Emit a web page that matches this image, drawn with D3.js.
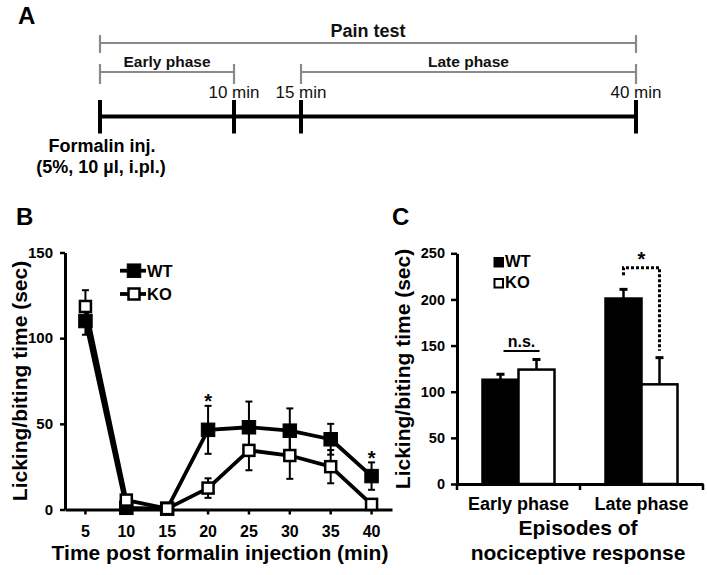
<!DOCTYPE html>
<html><head><meta charset="utf-8">
<script src="https://cdn.jsdelivr.net/npm/d3@7"></script>
<style>
html,body{margin:0;padding:0;background:#fff;}
svg{display:block;font-family:"Liberation Sans",Arial,Helvetica,sans-serif;}
</style></head>
<body>
<svg id="chart" width="707" height="575"></svg>
<script>
// ---------- Panel A data ----------
const timelineMarks = [0, 10, 15, 40];
const timelineLabels = ["", "10 min", "15 min", "40 min"];
const phaseSpans = [
  {label: "Pain test", start: 0, end: 40, row: 0},
  {label: "Early phase", start: 0, end: 10, row: 1},
  {label: "Late phase", start: 15, end: 40, row: 1}
];
// ---------- Panel B data ----------
const times = [5, 10, 15, 20, 25, 30, 35, 40];
const wtMean = [110, 1, 0.5, 46.5, 48, 46, 41, 19.5];
const wtErr  = [8, 1, 0.5, 14, 15, 13, 9, 8];
const koMean = [118.5, 5.5, 0.5, 12.5, 34.5, 31.5, 25, 3];
const koErr  = [9.5, 2, 0.5, 5.7, 11.6, 13.6, 9.7, 1];
const sigTimesB = [20, 40];
const yTicksB = [0, 50, 100, 150];
// ---------- Panel C data ----------
const phases = ["Early phase", "Late phase"];
const groups = ["WT", "KO"];
const wtC = [113, 201];
const wtCErr = [7, 11];
const koC = [124, 108];
const koCErr = [12, 30];
const yTicksC = [0, 50, 100, 150, 200, 250];

const svg = d3.select("#chart");
const BOLD = "bold";

// ================= Panel A =================
svg.append("text").attr("x", 18).attr("y", 24).attr("font-size", 24).attr("font-weight", BOLD).text("A");
const xA = d3.scaleLinear().domain([0, 40]).range([100, 636]);
const gA = svg.append("g");
const rowY = [43, 72];
const rowTick = [[35, 53], [64, 84]];
phaseSpans.forEach(p => {
  const y = rowY[p.row];
  gA.append("line").attr("x1", xA(p.start)).attr("x2", xA(p.end)).attr("y1", y).attr("y2", y)
    .attr("stroke", "#8a8a8a").attr("stroke-width", 2.2);
  gA.append("text").attr("x", (xA(p.start) + xA(p.end)) / 2).attr("y", p.row === 0 ? 37 : 67)
    .attr("text-anchor", "middle").attr("font-weight", BOLD).attr("font-size", p.row === 0 ? 18 : 15.5)
    .attr("fill", "#111").text(p.label);
});
// gray ticks
[[0, 40, 0], [0, 10, 1], [15, 40, 1]].forEach(([a, b, r]) => {
  [a, b].forEach(v => {
    gA.append("line").attr("x1", xA(v)).attr("x2", xA(v)).attr("y1", rowTick[r][0]).attr("y2", rowTick[r][1])
      .attr("stroke", "#8a8a8a").attr("stroke-width", 2.2);
  });
});
// black timeline
gA.append("line").attr("x1", xA(0)).attr("x2", xA(40)).attr("y1", 116.5).attr("y2", 116.5)
  .attr("stroke", "#000").attr("stroke-width", 4);
timelineMarks.forEach((m, i) => {
  gA.append("line").attr("x1", xA(m)).attr("x2", xA(m)).attr("y1", 100).attr("y2", 133.5)
    .attr("stroke", "#000").attr("stroke-width", 4);
  if (timelineLabels[i]) {
    gA.append("text").attr("x", xA(m)).attr("y", 98).attr("text-anchor", "middle")
      .attr("font-size", 17).attr("fill", "#111").text(timelineLabels[i]);
  }
});
gA.append("text").attr("x", 102).attr("y", 152).attr("text-anchor", "middle").attr("font-size", 18)
  .attr("font-weight", BOLD).text("Formalin inj.");
gA.append("text").attr("x", 101).attr("y", 173).attr("text-anchor", "middle").attr("font-size", 18)
  .attr("font-weight", BOLD).text("(5%, 10 µl, i.pl.)");

// ================= Panel B =================
svg.append("text").attr("x", 16).attr("y", 225).attr("font-size", 24).attr("font-weight", BOLD).text("B");
const xB = d3.scaleBand().domain(times).range([65, 392]);
const yB = d3.scaleLinear().domain([0, 150]).range([509.5, 252.5]);
const cx = t => xB(t) + xB.bandwidth() / 2;
const gB = svg.append("g");

const axYB = gB.append("g").attr("transform", "translate(65,0)")
  .call(d3.axisLeft(yB).tickValues(yTicksB).tickSize(5).tickSizeOuter(0).tickPadding(7));
const axXB = gB.append("g").attr("transform", "translate(0,509.5)")
  .call(d3.axisBottom(xB).tickSize(5).tickSizeOuter(0).tickPadding(11));
[axYB, axXB].forEach(a => {
  a.select(".domain").attr("stroke", "#000").attr("stroke-width", 3);
  a.selectAll(".tick line").attr("stroke", "#000").attr("stroke-width", 2.5);
  a.selectAll(".tick text").attr("font-family", "'Liberation Sans',Arial,sans-serif")
    .attr("font-weight", BOLD).attr("fill", "#000");
});
axYB.selectAll(".tick text").attr("font-size", 15);
axXB.selectAll(".tick text").attr("font-size", 16);

gB.append("text").attr("transform", "translate(27,381) rotate(-90)").attr("text-anchor", "middle")
  .attr("font-size", 21).attr("font-weight", BOLD).text("Licking/biting time (sec)");
gB.append("text").attr("x", 220).attr("y", 560).attr("text-anchor", "middle")
  .attr("font-size", 21).attr("font-weight", BOLD).text("Time post formalin injection (min)");

const series = [
  {name: "KO", mean: koMean, err: koErr, fill: "#fff"},
  {name: "WT", mean: wtMean, err: wtErr, fill: "#000"}
];
const line = d3.line().x((d, i) => cx(times[i])).y(d => yB(d));
series.forEach(s => {
  gB.append("path").attr("d", line(s.mean)).attr("fill", "none").attr("stroke", "#000")
    .attr("stroke-width", 3.8).attr("stroke-linejoin", "round");
});
// error bars
series.forEach(s => {
  times.forEach((t, i) => {
    const x = cx(t), lo = yB(s.mean[i] - s.err[i]), hi = yB(s.mean[i] + s.err[i]);
    gB.append("line").attr("x1", x).attr("x2", x).attr("y1", lo).attr("y2", hi)
      .attr("stroke", "#000").attr("stroke-width", 2);
    [lo, hi].forEach(y => gB.append("line").attr("x1", x - 3.5).attr("x2", x + 3.5).attr("y1", y).attr("y2", y)
      .attr("stroke", "#000").attr("stroke-width", 2));
  });
});
// markers: WT first, KO on top
[series[1], series[0]].forEach(s => {
  times.forEach((t, i) => {
    const sz = s.name === "WT" ? 13.5 : 11;
    gB.append("rect").attr("x", cx(t) - sz / 2).attr("y", yB(s.mean[i]) - sz / 2)
      .attr("width", sz).attr("height", sz).attr("fill", s.fill)
      .attr("stroke", "#000").attr("stroke-width", s.name === "WT" ? 1 : 2.5);
  });
});
// significance stars
sigTimesB.forEach(t => {
  const i = times.indexOf(t);
  const top = yB(wtMean[i] + wtErr[i]);
  gB.append("text").attr("x", cx(t)).attr("y", top - 8.5 + 11).attr("text-anchor", "middle")
    .attr("font-size", 20).attr("font-weight", BOLD).text("*");
});
// legend B
[{n: "WT", y: 270.7, fill: "#000", sz: 13.5, sw: 1}, {n: "KO", y: 294, fill: "#fff", sz: 11, sw: 2.5}].forEach(l => {
  gB.append("line").attr("x1", 120).attr("x2", 146).attr("y1", l.y).attr("y2", l.y)
    .attr("stroke", "#000").attr("stroke-width", 3.8);
  gB.append("rect").attr("x", 134 - l.sz / 2).attr("y", l.y - l.sz / 2).attr("width", l.sz).attr("height", l.sz)
    .attr("fill", l.fill).attr("stroke", "#000").attr("stroke-width", l.sw);
  gB.append("text").attr("x", 147).attr("y", l.y + 6).attr("font-size", 16.5).attr("font-weight", BOLD).text(l.n);
});

// ================= Panel C =================
svg.append("text").attr("x", 392).attr("y", 225).attr("font-size", 24).attr("font-weight", BOLD).text("C");
const xC = d3.scaleBand().domain(phases).range([457, 703]);
const xIn = d3.scaleBand().domain(groups).range([xC.bandwidth() / 2 - 36, xC.bandwidth() / 2 + 36]);
const yC = d3.scaleLinear().domain([0, 250]).range([484, 253.3]);
const gC = svg.append("g");

const barData = [];
phases.forEach((p, i) => {
  barData.push({phase: p, g: "WT", v: wtC[i], e: wtCErr[i]});
  barData.push({phase: p, g: "KO", v: koC[i], e: koCErr[i]});
});
barData.forEach(d => {
  const x = xC(d.phase) + xIn(d.g), w = xIn.bandwidth();
  gC.append("rect").attr("x", x).attr("y", yC(d.v)).attr("width", w).attr("height", yC(0) - yC(d.v))
    .attr("fill", d.g === "WT" ? "#000" : "#fff").attr("stroke", "#000").attr("stroke-width", 2.5);
  const xm = x + w / 2, top = yC(d.v + d.e);
  gC.append("line").attr("x1", xm).attr("x2", xm).attr("y1", yC(d.v)).attr("y2", top)
    .attr("stroke", "#000").attr("stroke-width", 2.5);
  gC.append("line").attr("x1", xm - 4).attr("x2", xm + 4).attr("y1", top + 1).attr("y2", top + 1)
    .attr("stroke", "#000").attr("stroke-width", 3);
});

const axYC = gC.append("g").attr("transform", "translate(457,0)")
  .call(d3.axisLeft(yC).tickValues(yTicksC).tickSize(6).tickSizeOuter(0).tickPadding(6));
const axXC = gC.append("g").attr("transform", "translate(0,484)")
  .call(d3.axisBottom(xC).tickSize(0).tickSizeOuter(0).tickPadding(13));
[axYC, axXC].forEach(a => {
  a.select(".domain").attr("stroke", "#000").attr("stroke-width", 3);
  a.selectAll(".tick line").attr("stroke", "#000").attr("stroke-width", 2.5);
  a.selectAll(".tick text").attr("font-family", "'Liberation Sans',Arial,sans-serif")
    .attr("font-weight", BOLD).attr("fill", "#000");
});
axYC.selectAll(".tick text").attr("font-size", 14.5);
axXC.selectAll(".tick text").attr("font-size", 18);
// category boundary ticks
const bounds = phases.map(p => xC(p)).concat([xC(phases[phases.length - 1]) + xC.bandwidth()]);
bounds.forEach(b => gC.append("line").attr("x1", b).attr("x2", b).attr("y1", 484).attr("y2", 490)
  .attr("stroke", "#000").attr("stroke-width", 2.5));

gC.append("text").attr("transform", "translate(410,369) rotate(-90)").attr("text-anchor", "middle")
  .attr("font-size", 21).attr("font-weight", BOLD).text("Licking/biting time (sec)");
gC.append("text").attr("x", 578).attr("y", 535).attr("text-anchor", "middle")
  .attr("font-size", 21).attr("font-weight", BOLD).text("Episodes of");
gC.append("text").attr("x", 578).attr("y", 560).attr("text-anchor", "middle")
  .attr("font-size", 21).attr("font-weight", BOLD).text("nociceptive response");

// n.s. for early phase
{
  const x0 = xC(phases[0]) + xIn("WT") + xIn.bandwidth() / 2 + 3;
  const x1 = xC(phases[0]) + xIn("KO") + xIn.bandwidth() / 2 + 3;
  const yl = yC(koC[0] + koCErr[0]) - 7.5;
  gC.append("line").attr("x1", x0).attr("x2", x1).attr("y1", yl).attr("y2", yl)
    .attr("stroke", "#000").attr("stroke-width", 2);
  gC.append("text").attr("x", (x0 + x1) / 2).attr("y", yl - 3.5).attr("text-anchor", "middle")
    .attr("font-size", 16).attr("font-weight", BOLD).text("n.s.");
}
// dotted bracket for late phase
{
  const xw = xC(phases[1]) + xIn("WT") + xIn.bandwidth() / 2;
  const xk = xC(phases[1]) + xIn("KO") + xIn.bandwidth() / 2;
  const wTop = yC(wtC[1] + wtCErr[1]);
  const kTop = yC(koC[1] + koCErr[1]);
  const yTop = wTop - 20.5;
  gC.append("path").attr("d", `M${xw},${wTop - 13}V${yTop}H${xk}V${kTop - 6}`)
    .attr("fill", "none").attr("stroke", "#000").attr("stroke-width", 3).attr("stroke-dasharray", "3,2");
  gC.append("text").attr("x", (xw + xk) / 2).attr("y", yTop - 1.5).attr("text-anchor", "middle")
    .attr("font-size", 20).attr("font-weight", BOLD).text("*");
}
// legend C
[{n: "WT", y: 258, fill: "#000"}, {n: "KO", y: 279, fill: "#fff"}].forEach(l => {
  gC.append("rect").attr("x", 494.5).attr("y", l.y).attr("width", 8.5).attr("height", 8.5)
    .attr("fill", l.fill).attr("stroke", "#000").attr("stroke-width", 2);
  gC.append("text").attr("x", 505).attr("y", l.y + 9).attr("font-size", 16.5).attr("font-weight", BOLD).text(l.n);
});
</script>
</body></html>
